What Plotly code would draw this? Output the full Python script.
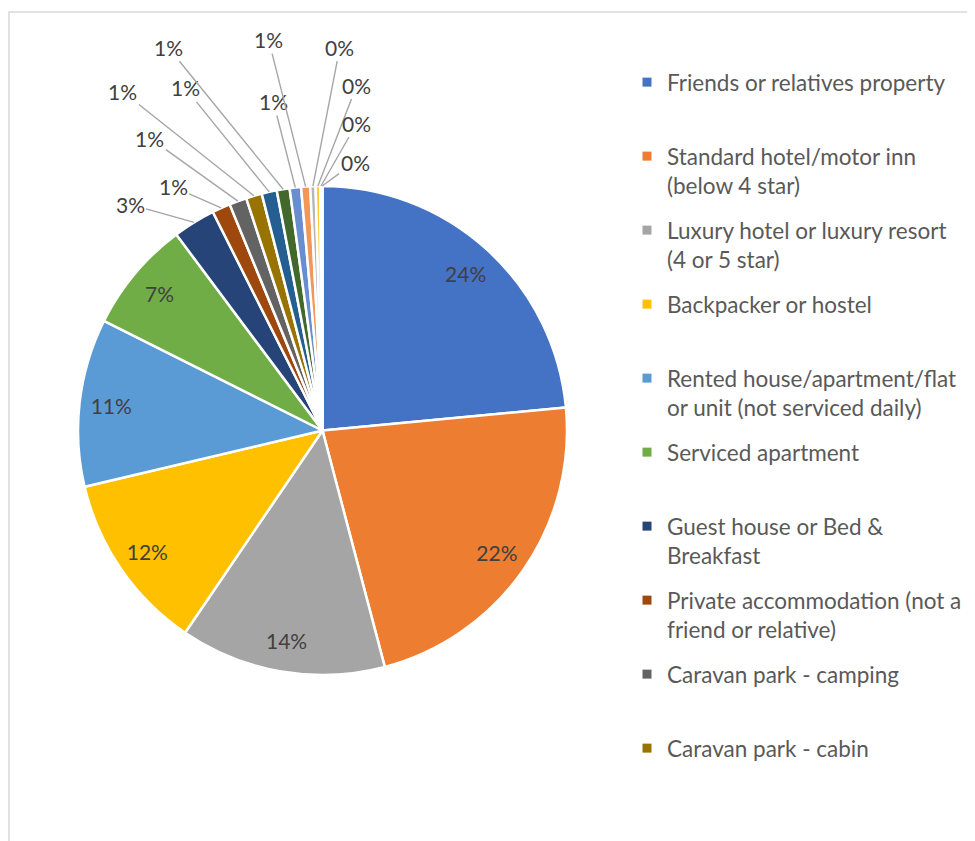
import math
import plotly.graph_objects as go

# accommodation types, clockwise from 12 o'clock
categories = [
    "Friends or relatives property",
    "Standard hotel/motor inn (below 4 star)",
    "Luxury hotel or luxury resort (4 or 5 star)",
    "Backpacker or hostel",
    "Rented house/apartment/flat or unit (not serviced daily)",
    "Serviced apartment",
    "Guest house or Bed & Breakfast",
    "Private accommodation (not a friend or relative)",
    "Caravan park - camping",
    "Caravan park - cabin",
    "Other type 11",
    "Other type 12",
    "Other type 13",
    "Other type 14",
    "Other type 15",
    "Other type 16",
    "Other type 17",
    "Other type 18",
]
# share of respondents (%)
shares = [23.5, 22.4, 13.6, 11.8, 11.1, 7.4, 2.8, 1.2, 1.15, 1.05,
          1.0, 0.85, 0.75, 0.6, 0.35, 0.3, 0.1, 0.05]
# legend text as shown (only the first ten entries fit in the chart)
legend_labels = [
    "Friends or relatives property",
    "Standard hotel/motor inn<br>(below 4 star)",
    "Luxury hotel or luxury resort<br>(4 or 5 star)",
    "Backpacker or hostel",
    "Rented house/apartment/flat<br>or unit (not serviced daily)",
    "Serviced apartment",
    "Guest house or Bed &<br>Breakfast",
    "Private accommodation (not a<br>friend or relative)",
    "Caravan park - camping",
    "Caravan park - cabin",
]

colors = ["#4472C4", "#ED7D31", "#A5A5A5", "#FFC000", "#5B9BD5", "#70AD47",
          "#264478", "#9E480E", "#636363", "#997300", "#255E91", "#43682B",
          "#698ED0", "#F1975A", "#B7B7B7", "#FFCD33", "#7CAFDD", "#8CC168"]

W, H = 975, 841
CX, CY, R = 314.5, 422.5, 244.5          # pie centre / radius in px
N_INSIDE = 6                              # slices labelled inside
# pixel offsets of the outside labels from their slice edge (layout only)
label_offsets = [(-64, -18), (-48, -21), (-88, -63), (-131, -104), (-84, -104),
                 (-115, -142), (-22, -86), (-37, -147), (27, -139), (39, -101),
                 (36, -63), (33, -24)]

total = sum(shares)
domain = dict(x=[(CX - R) / W, (CX + R) / W], y=[1 - (CY + R) / H, 1 - (CY - R) / H])

fig = go.Figure()

# the coloured pie itself
fig.add_trace(go.Pie(
    labels=categories, values=shares, sort=False, direction="clockwise",
    domain=domain, marker=dict(colors=colors, line=dict(color="white", width=2.5)),
    textinfo="none", showlegend=False, hoverinfo="label+percent",
))

# transparent ring on top only to carry the inside labels near the rim
fig.add_trace(go.Pie(
    labels=categories, values=shares, sort=False, direction="clockwise",
    domain=domain, hole=0.74,
    marker=dict(colors=["rgba(0,0,0,0)"] * len(shares), line=dict(width=0)),
    texttemplate=["%{percent:.0%}" if i < N_INSIDE else "" for i in range(len(shares))],
    textposition=["inside" if i < N_INSIDE else "none" for i in range(len(shares))],
    insidetextorientation="horizontal",
    insidetextfont=dict(family="Lato", size=21, color="#404040"),
    showlegend=False, hoverinfo="skip",
))

# outside labels with leader lines for the thin slices
cum = sum(shares[:N_INSIDE])
for i in range(N_INSIDE, len(shares)):
    mid = (cum + shares[i] / 2) / total * 2 * math.pi
    cum += shares[i]
    px_x = CX + R * math.sin(mid)
    px_y = CY - R * math.cos(mid)
    ax, ay = label_offsets[i - N_INSIDE]
    fig.add_annotation(
        x=px_x / W, y=1 - px_y / H, xref="paper", yref="paper",
        text=f"{round(shares[i] / total * 100)}%",
        showarrow=True, arrowhead=0, arrowwidth=1.4, arrowcolor="#A6A6A6",
        ax=ax, ay=ay, standoff=0,
        font=dict(family="Lato", size=21, color="#404040"),
    )

# legend entries (Excel only shows the first ten)
for name, c in zip(legend_labels, colors):
    txt = name if "<br>" in name else name + "<br> "
    fig.add_trace(go.Scatter(
        x=[None], y=[None], mode="markers", name=txt, legendgroup=name,
        marker=dict(symbol="square", size=9, color=c),
    ))

# chart-area frame
fig.add_shape(type="rect", xref="paper", yref="paper",
              x0=1 / W, x1=1.2, y0=-0.2, y1=1 - 4 / H,
              line=dict(color="#D9D9D9", width=1.5), fillcolor="rgba(0,0,0,0)")

fig.update_layout(
    width=W, height=H,
    margin=dict(l=0, r=0, t=0, b=0),
    paper_bgcolor="white", plot_bgcolor="white",
    xaxis=dict(visible=False), yaxis=dict(visible=False),
    legend=dict(
        x=619 / W, y=1 - 53 / H, xanchor="left", yanchor="top",
        font=dict(family="Lato", size=22.5, color="#595959"),
        valign="top", tracegroupgap=12.5, itemclick=False,
        bgcolor="rgba(0,0,0,0)",
    ),
)

fig.write_html("out.html")
